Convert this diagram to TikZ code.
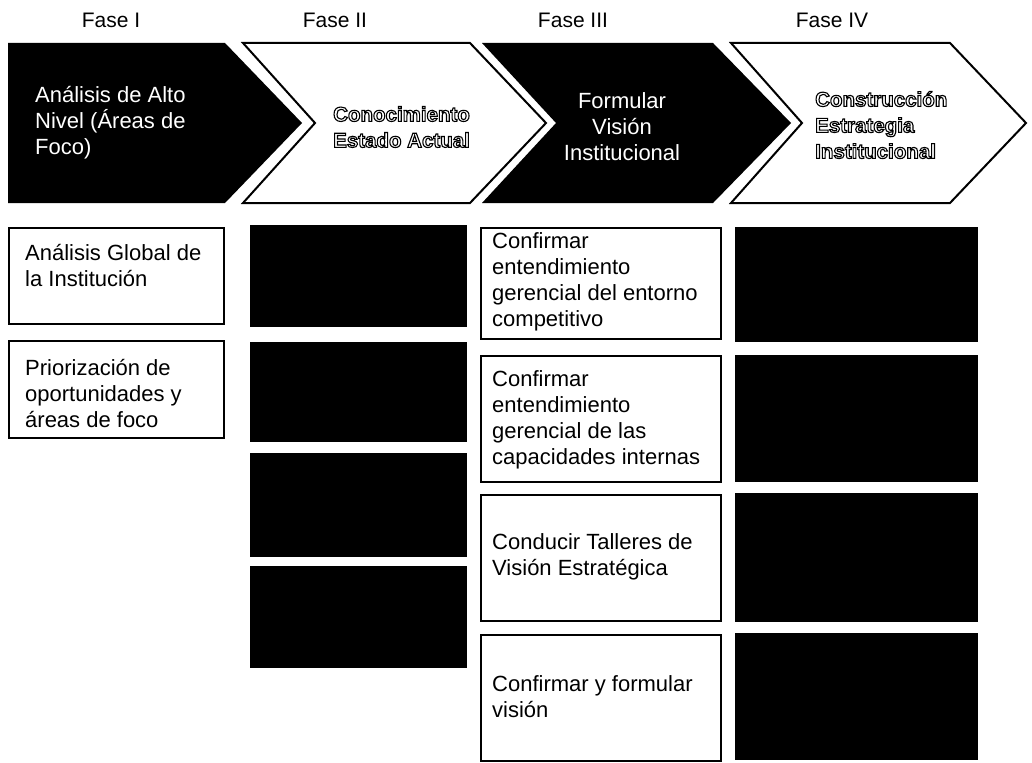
\documentclass[tikz,border=0pt]{standalone}
\usepackage{fontspec}
\setmainfont{Liberation Sans}
\usepackage{xcolor}
\usepackage{tikz}

% white letters with a black stroke round them
\newcommand\outl[1]{\special{pdf:literal direct 2 Tr 1.1 w 0 G}#1\special{pdf:literal direct 0 Tr}}

\tikzset{
    fase/.style={font=\fontsize{21}{25}\selectfont, inner sep=0pt},
    txt/.style={font=\fontsize{22}{26}\selectfont, align=left, inner sep=0pt, anchor=west},
    wtxt/.style={txt, text=white},
    otxt/.style={font=\fontsize{20.5}{26}\selectfont\bfseries, text=white, align=left, inner sep=0pt, anchor=west},
    wbox/.style={draw=black, line width=1.6pt, fill=white, anchor=north west, inner sep=0pt},
    dbox/.style={fill=black, anchor=north west, inner sep=0pt},
    chev/.style={draw=black, line width=2pt, line join=miter},
}

\begin{document}
\begin{tikzpicture}[x=1pt,y=-1pt]
    \useasboundingbox (0,0) rectangle (1032,762);
    % Phase titles
    \node[fase] (f1) at (111,20) {Fase I};
    \node[fase] (f2) at (335,20) {Fase II};
    \node[fase] (f3) at (573,20) {Fase III};
    \node[fase] (f4) at (832,20) {Fase IV};
    % Chevrons
    \fill[black] (8,43) -- (225,43) -- (302,123) -- (225,203) -- (8,203) -- cycle;
    \filldraw[chev, fill=white] (243,43) -- (470,43) -- (546,123) -- (470,203) -- (243,203) -- (315,123) -- cycle;
    \fill[black] (482,43) -- (713,43) -- (791,123) -- (713,203) -- (482,203) -- (556,123) -- cycle;
    \filldraw[chev, fill=white] (731,43) -- (950,43) -- (1026,123) -- (950,203) -- (731,203) -- (802,123) -- cycle;
    \node[wtxt] (p1) at (35,123) {Análisis de Alto\\Nivel (Áreas de\\Foco)};
    \node[otxt] (p2) at (333,127) {\outl{Conocimiento}\\\outl{Estado Actual}};
    \node[wtxt, align=center, anchor=center] (p3) at (622,127) {Formular\\Visión\\Institucional};
    \node[otxt] (p4) at (815,125) {\outl{Construcción}\\\outl{Estrategia}\\\outl{Institucional}};
    % Fase I
    \node[wbox, minimum width=215pt, minimum height=96pt] (a1) at (8,227) {};
    \node[wbox, minimum width=215pt, minimum height=97pt] (a2) at (8,340) {};
    \node[txt] (a1t) at (25,266) {Análisis Global de\\la Institución};
    \node[txt] (a2t) at (25,394) {Priorización de\\oportunidades y\\áreas de foco};
    % Fase II
    \node[dbox, minimum width=217pt, minimum height=102pt] (b1) at (250,225) {};
    \node[dbox, minimum width=217pt, minimum height=100pt] (b2) at (250,342) {};
    \node[dbox, minimum width=217pt, minimum height=104pt] (b3) at (250,453) {};
    \node[dbox, minimum width=217pt, minimum height=102pt] (b4) at (250,566) {};
    % Fase III
    \node[wbox, minimum width=240pt, minimum height=111pt] (c1) at (480,227) {};
    \node[wbox, minimum width=240pt, minimum height=126pt] (c2) at (480,355) {};
    \node[wbox, minimum width=240pt, minimum height=126pt] (c3) at (480,494) {};
    \node[wbox, minimum width=240pt, minimum height=126pt] (c4) at (480,634) {};
    \node[txt] (c1t) at (492,282) {Confirmar\\entendimiento\\gerencial del entorno\\competitivo};
    \node[txt] (c2t) at (492,420) {Confirmar\\entendimiento\\gerencial de las\\capacidades internas};
    \node[txt] (c3t) at (492,557) {Conducir Talleres de\\Visión Estratégica};
    \node[txt] (c4t) at (492,697) {Confirmar y formular\\visión};
    % Fase IV
    \node[dbox, minimum width=243pt, minimum height=115pt] (d1) at (735,227) {};
    \node[dbox, minimum width=243pt, minimum height=127pt] (d2) at (735,355) {};
    \node[dbox, minimum width=243pt, minimum height=129pt] (d3) at (735,493) {};
    \node[dbox, minimum width=243pt, minimum height=127pt] (d4) at (735,633) {};
\end{tikzpicture}
\end{document}
